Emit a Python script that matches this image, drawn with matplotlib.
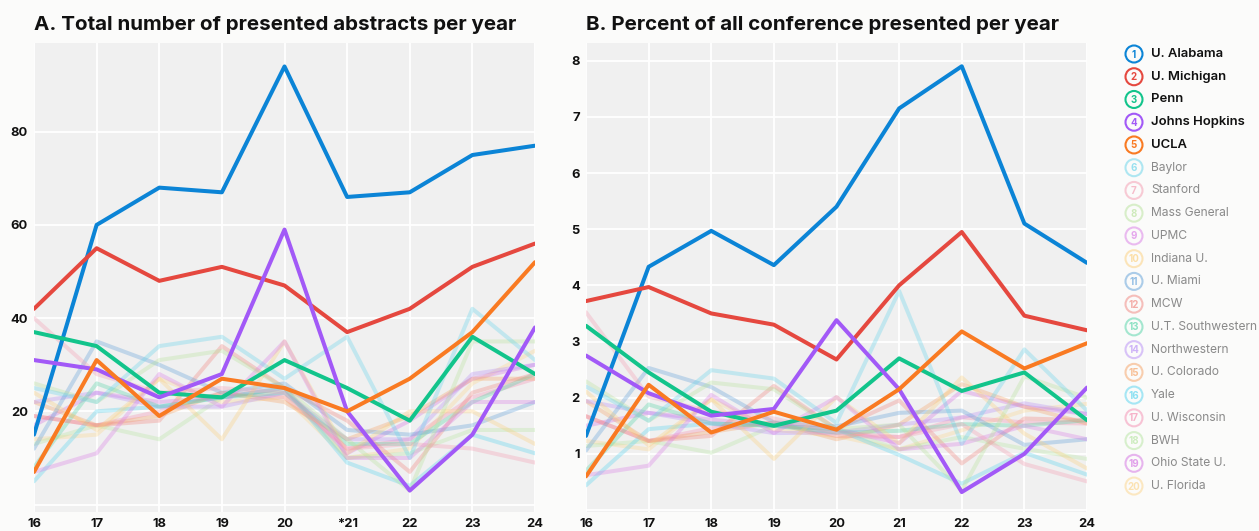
import matplotlib.pyplot as plt
import matplotlib.patches as patches

plt.rcParams['font.family'] = ['Inter', 'DejaVu Sans']

W, H = 1259, 531

years = [16, 17, 18, 19, 20, 21, 22, 23, 24]
labels_a = ['16', '17', '18', '19', '20', '*21', '22', '23', '24']
labels_b = ['16', '17', '18', '19', '20', '21', '22', '23', '24']

names = ['U. Alabama', 'U. Michigan', 'Penn', 'Johns Hopkins', 'UCLA',
         'Baylor', 'Stanford', 'Mass General', 'UPMC', 'Indiana U.',
         'U. Miami', 'MCW', 'U.T. Southwestern', 'Northwestern', 'U. Colorado',
         'Yale', 'U. Wisconsin', 'BWH', 'Ohio State U.', 'U. Florida']

colors = ['#0b84d6', '#e5483f', '#12c48b', '#a259f7', '#f97a22',
          '#63d3ea', '#f49ab0', '#b6e29a', '#d97ae6', '#fbcf7a',
          '#5c9ed8', '#f0837c', '#4fd3a5', '#b68cf6', '#f6a061',
          '#52d3ef', '#f48cb0', '#b5e5a0', '#d36fe2', '#fcd58a']

# A. number of abstracts
alabama_n = [15, 60, 68, 67, 94, 66, 67, 75, 77]
michigan_n = [42, 55, 48, 51, 47, 37, 42, 51, 56]
penn_n = [37, 34, 24, 23, 31, 25, 18, 36, 28]
hopkins_n = [31, 29, 23, 28, 59, 20, 3, 15, 38]
ucla_n = [7, 31, 19, 27, 25, 20, 27, 37, 52]
baylor_n = [25, 22, 34, 36, 27, 36, 10, 42, 31]
stanford_n = [40, 28, 24, 25, 24, 12, 13, 12, 9]
massgen_n = [26, 22, 31, 33, 25, 14, 3, 35, 35]
upmc_n = [7, 11, 28, 21, 35, 10, 10, 22, 22]
indiana_n = [24, 16, 27, 14, 35, 11, 20, 20, 13]
miami_n = [12, 35, 30, 24, 26, 16, 15, 17, 22]
mcw_n = [19, 17, 18, 34, 25, 18, 7, 24, 28]
utsw_n = [8, 26, 21, 23, 24, 13, 13, 22, 28]
northwestern_n = [22, 24, 21, 21, 24, 14, 14, 28, 30]
colorado_n = [22, 17, 19, 24, 22, 14, 19, 27, 27]
yale_n = [5, 20, 21, 23, 25, 9, 4, 15, 11]
wisconsin_n = [19, 17, 20, 24, 23, 12, 14, 23, 27]
bwh_n = [13, 17, 14, 23, 25, 10, 11, 16, 16]
ohio_n = [17, 24, 22, 23, 25, 11, 18, 27, 30]
florida_n = [14, 15, 27, 22, 23, 10, 12, 26, 33]

# B. percent of all conference abstracts
alabama_p = [1.32, 4.33, 4.97, 4.36, 5.40, 7.15, 7.90, 5.10, 4.40]
michigan_p = [3.72, 3.97, 3.50, 3.30, 2.68, 4.00, 4.95, 3.46, 3.20]
penn_p = [3.28, 2.45, 1.75, 1.50, 1.77, 2.70, 2.12, 2.45, 1.60]
hopkins_p = [2.75, 2.08, 1.68, 1.80, 3.38, 2.15, 0.32, 1.00, 2.18]
ucla_p = [0.60, 2.23, 1.38, 1.75, 1.43, 2.15, 3.18, 2.52, 2.97]
baylor_p = [2.20, 1.59, 2.49, 2.34, 1.55, 3.90, 1.18, 2.86, 1.77]
stanford_p = [3.52, 2.02, 1.75, 1.63, 1.38, 1.30, 1.53, 0.82, 0.51]
massgen_p = [2.29, 1.59, 2.27, 2.15, 1.44, 1.52, 0.35, 2.38, 2.00]
upmc_p = [0.62, 0.79, 2.05, 1.37, 2.01, 1.08, 1.18, 1.50, 1.26]
indiana_p = [2.11, 1.15, 1.97, 0.91, 2.01, 1.19, 2.36, 1.36, 0.74]
miami_p = [1.06, 2.53, 2.19, 1.56, 1.49, 1.73, 1.77, 1.16, 1.26]
mcw_p = [1.67, 1.23, 1.32, 2.21, 1.44, 1.95, 0.83, 1.63, 1.60]
utsw_p = [0.70, 1.88, 1.54, 1.50, 1.38, 1.41, 1.53, 1.50, 1.60]
northwestern_p = [1.94, 1.73, 1.54, 1.37, 1.38, 1.52, 1.65, 1.90, 1.71]
colorado_p = [1.94, 1.23, 1.39, 1.56, 1.26, 1.52, 2.24, 1.84, 1.54]
yale_p = [0.44, 1.44, 1.54, 1.50, 1.44, 0.98, 0.47, 1.02, 0.63]
wisconsin_p = [1.67, 1.23, 1.46, 1.56, 1.32, 1.30, 1.65, 1.56, 1.54]
bwh_p = [1.14, 1.23, 1.02, 1.50, 1.44, 1.08, 1.30, 1.09, 0.91]
ohio_p = [1.50, 1.73, 1.61, 1.50, 1.44, 1.19, 2.12, 1.84, 1.71]
florida_p = [1.23, 1.08, 1.97, 1.43, 1.32, 1.08, 1.42, 1.77, 1.89]

counts = [alabama_n, michigan_n, penn_n, hopkins_n, ucla_n, baylor_n, stanford_n,
          massgen_n, upmc_n, indiana_n, miami_n, mcw_n, utsw_n, northwestern_n,
          colorado_n, yale_n, wisconsin_n, bwh_n, ohio_n, florida_n]
percents = [alabama_p, michigan_p, penn_p, hopkins_p, ucla_p, baylor_p, stanford_p,
            massgen_p, upmc_p, indiana_p, miami_p, mcw_p, utsw_p, northwestern_p,
            colorado_p, yale_p, wisconsin_p, bwh_p, ohio_p, florida_p]

fig = plt.figure(figsize=(W / 100, H / 100), dpi=100, facecolor='#fbfbfa')


def px_axes(x0, x1, y0, y1):
    return fig.add_axes([x0 / W, 1 - y1 / H, (x1 - x0) / W, (y1 - y0) / H])


axA = px_axes(34, 535, 42.7, 512)
axB = px_axes(586, 1087, 42.7, 512)


def draw_panel(ax, series, xlabels, yticks, ylim, title):
    ax.set_facecolor('#f0f0f0')
    for s in ax.spines.values():
        s.set_visible(False)
    # faded schools first, top five on top
    for i in range(19, 4, -1):
        ax.plot(years, series[i], color=colors[i], lw=2.9, alpha=0.32,
                solid_capstyle='round', zorder=2)
    for i in range(5):
        ax.plot(years, series[i], color=colors[i], lw=2.9,
                solid_capstyle='round', zorder=3 + i)
    ax.set_xlim(16, 24)
    ax.set_ylim(*ylim)
    ax.set_xticks(years)
    ax.set_xticklabels(xlabels)
    ax.set_yticks(yticks)
    ax.set_yticklabels([''] + [str(t) for t in yticks[1:]])
    ax.tick_params(length=0, labelsize=9.3, pad=4.5, labelcolor='#111111')
    for t in ax.get_xticklabels() + ax.get_yticklabels():
        t.set_fontweight('bold')
    ax.grid(True, color='white', lw=1.3, zorder=1)
    ax.set_axisbelow(True)
    ax.set_title(title, loc='left', fontsize=14.8, fontweight='bold',
                 color='#111111', pad=9)


draw_panel(axA, counts, labels_a, [0, 20, 40, 60, 80], (-1.6, 99.1),
           'A. Total number of presented abstracts per year')
draw_panel(axB, percents, labels_b, [0, 1, 2, 3, 4, 5, 6, 7, 8], (-0.035, 8.32),
           'B. Percent of all conference presented per year')

# legend drawn in pixel coordinates
leg = fig.add_axes([0, 0, 1, 1])
leg.set_xlim(0, W)
leg.set_ylim(H, 0)
leg.axis('off')
for i, name in enumerate(names):
    cy = 54 + 22.74 * i
    top = i < 5
    leg.add_patch(patches.Circle((1134, cy), 8.5, fill=False, ec=colors[i],
                                 lw=1.5, alpha=1.0 if top else 0.5))
    leg.text(1134, cy + 0.5, str(i + 1), ha='center', va='center', fontsize=7,
             color=colors[i], alpha=1.0 if top else 0.65, fontweight='bold')
    leg.text(1151, cy, name, ha='left', va='center',
             fontsize=9.4 if top else 8.7,
             color='#111111' if top else '#8a8a8a',
             fontweight='semibold' if top else 'normal')

fig.savefig('out.png', dpi=100, facecolor=fig.get_facecolor())
